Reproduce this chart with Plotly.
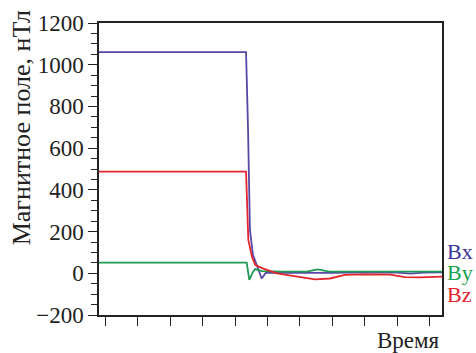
import plotly.graph_objects as go

# time in tick units (0..10)
t_bx = [-0.19, 4.34, 4.40, 4.46, 4.55, 4.62, 4.68, 4.75, 4.82, 4.95, 5.3, 6.0, 6.5, 7.0, 8.0, 9.0, 9.4, 9.8, 10.37]
bx = [1060, 1060, 700, 208, 90, 54, 35, 5, -25, 3, 3, 2, 0, 2, 5, 3, -2, 3, 5]

t_by = [-0.19, 4.36, 4.44, 4.55, 4.62, 4.83, 5.5, 6.2, 6.55, 6.9, 8.0, 9.0, 10.37]
by = [51, 51, -32, 5, 20, 10, 8, 8, 19, 8, 8, 8, 8]

t_bz = [-0.19, 4.34, 4.41, 4.52, 4.62, 4.83, 5.29, 6.0, 6.46, 6.92, 7.38, 8.0, 8.77, 9.23, 9.69, 10.37]
bz = [487, 487, 160, 80, 40, 25, 0, -18, -29, -25, -8, -5, -6, -18, -20, -16]

series = [("Bx", t_bx, bx, "#5a46a6", "#3a3596"),
          ("By", t_by, by, "#1f9a52", "#16a04e"),
          ("Bz", t_bz, bz, "#e3262e", "#e4222b")]

L, R, T, B = 99, 442, 22.5, 315

fig = go.Figure()
for name, t, v, c, lc in series:
    fig.add_trace(go.Scatter(x=t, y=v, mode="lines", name=name,
                             line=dict(color=c, width=1.8), showlegend=False))

font = "Liberation Serif"

def px(x):
    return (x - L) / (R - L)

def py(y):
    return (B - y) / (B - T)

label_y = [251, 272, 294]
for (name, t, v, c, lc), yy in zip(series, label_y):
    fig.add_annotation(text=name, xref="paper", yref="paper",
                       x=px(445), y=py(yy),
                       xanchor="left", yanchor="middle", showarrow=False,
                       font=dict(family=font, size=22, color=lc))

fig.add_annotation(text="Время", xref="paper", yref="paper",
                   x=px(442), y=py(341),
                   xanchor="right", yanchor="middle", showarrow=False,
                   font=dict(family=font, size=23, color="#222"))
fig.add_annotation(text="Магнитное поле, нТл", xref="paper", yref="paper",
                   x=px(21), y=py(128),
                   xanchor="center", yanchor="middle", textangle=-90, showarrow=False,
                   font=dict(family=font, size=26, color="#222"))

fig.update_layout(
    width=476, height=353,
    margin=dict(l=L, r=476 - R, t=T, b=353 - B),
    plot_bgcolor="white", paper_bgcolor="white",
    font=dict(family=font, size=23, color="#222"),
)
fig.update_xaxes(range=[-0.185, 10.37], tick0=0, dtick=1, ticks="outside", ticklen=9,
                 tickcolor="#222", tickwidth=1.3, showticklabels=False, automargin=False,
                 showline=True, linecolor="#222", linewidth=1.5, mirror=True,
                 showgrid=False, zeroline=False)
fig.update_yaxes(range=[-200, 1200], tick0=0, dtick=200, ticks="outside", ticklen=9,
                 tickcolor="#222", tickwidth=1.3, automargin=False,
                 minor=dict(dtick=50, ticks="outside", ticklen=6, tickcolor="#222", tickwidth=1.1),
                 showline=True, linecolor="#222", linewidth=1.5, mirror=True,
                 showgrid=False, zeroline=False, tickfont=dict(family=font, size=23))

fig.write_html("out.html", config={"displayModeBar": False},
               post_script="document.body.style.margin='0';document.body.style.overflow='hidden';")
